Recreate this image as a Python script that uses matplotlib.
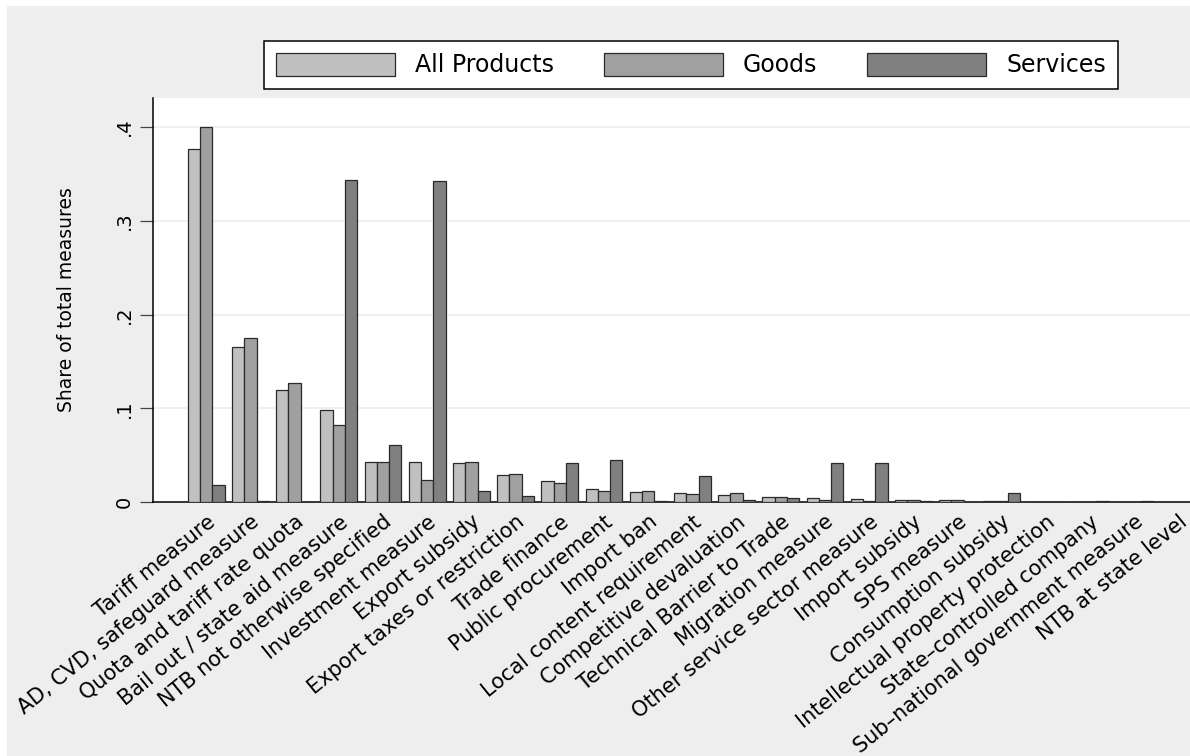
import matplotlib
matplotlib.use('Agg')
import matplotlib.pyplot as plt
import numpy as np
from matplotlib.patches import Rectangle

# Share of total measures by measure type
categories = ['Tariff measure', 'AD, CVD, safeguard measure', 'Quota and tariff rate quota',
              'Bail out / state aid measure', 'NTB not otherwise specified',
              'Investment measure', 'Export subsidy', 'Export taxes or restriction',
              'Trade finance', 'Public procurement', 'Import ban',
              'Local content requirement', 'Competitive devaluation',
              'Technical Barrier to Trade', 'Migration measure',
              'Other service sector measure', 'Import subsidy', 'SPS measure',
              'Consumption subsidy', 'Intellectual property protection',
              'State\u2013controlled company', 'Sub\u2013national government measure',
              'NTB at state level']

all_products = [0.377, 0.165, 0.119, 0.098, 0.043, 0.043, 0.042, 0.029, 0.022, 0.0135,
                0.0103, 0.0093, 0.0078, 0.0057, 0.0046, 0.0035, 0.002, 0.002, 0.001,
                0.0, 0.0, 0.0, 0.0]
goods = [0.400, 0.175, 0.127, 0.082, 0.043, 0.0235, 0.043, 0.030, 0.0206, 0.012,
         0.012, 0.0082, 0.0093, 0.0057, 0.0025, 0.001, 0.002, 0.002, 0.001,
         0.0, 0.0, 0.0, 0.0]
services = [0.018, 0.001, 0.0, 0.343, 0.061, 0.342, 0.012, 0.006, 0.0416, 0.045,
            0.001, 0.0277, 0.002, 0.0046, 0.0413, 0.0416, 0.001, 0.0, 0.0093,
            0.0, 0.001, 0.001, 0.0]

series_labels = ['All Products', 'Goods', 'Services']
yticks = [0, 0.1, 0.2, 0.3, 0.4]
ytick_labels = ['0', '.1', '.2', '.3', '.4']


def bar_plot(fname='out.png'):
    '''Stata-style grouped bar chart of measure shares'''

    fig = plt.figure(figsize=(11.9, 7.56), dpi=100, facecolor='white')
    # grey graph region, leaving a thin white margin top/left as in the original
    fig.patches.append(Rectangle((7 / 1190, 0), 1, 1 - 6 / 756, transform=fig.transFigure,
                                 facecolor='#eeeeee', edgecolor='none', zorder=-10))

    ax = fig.add_axes([153 / 1190, 1 - 502 / 756, (1190 - 153) / 1190, (502 - 97.5) / 756])
    ax.set_facecolor('white')

    x = np.arange(len(categories))
    width = 0.278
    colors = ['#c0c0c0', '#a0a0a0', '#808080']
    bars = []
    for k, vals in enumerate([all_products, goods, services]):
        b = ax.bar(x + (k - 1) * width, vals, width, color=colors[k], edgecolor='#2a2a2a',
                   linewidth=0.9, label=series_labels[k], zorder=3)
        bars.append(b)

    ax.set_xlim(-1.204, 22.258)
    ax.set_ylim(0, 0.4315)

    ax.set_yticks(yticks)
    ax.set_yticklabels(ytick_labels, rotation=90, va='center', fontsize=14)
    ax.tick_params(axis='y', length=9.5, width=0.9, color='#444444', pad=4)
    for y in yticks[1:]:
        ax.axhline(y, color='#eaf2f3', linewidth=1.4, zorder=1)

    ax.set_xticks(x)
    ax.set_xticklabels(categories, rotation=39, ha='right', va='top',
                       rotation_mode='anchor', fontsize=15)
    ax.tick_params(axis='x', length=0, pad=7)

    ax.spines['top'].set_visible(False)
    ax.spines['right'].set_visible(False)
    ax.spines['left'].set_linewidth(1.1)
    ax.spines['bottom'].set_linewidth(1.1)

    ax.set_ylabel('Share of total measures', fontsize=13.5, labelpad=28)

    leg = fig.legend(handles=bars, labels=series_labels, loc='upper left', ncol=3,
                     bbox_to_anchor=(264 / 1190, 1 - 41 / 756), borderaxespad=0,
                     fontsize=17, handlelength=5.04, handleheight=1.14, handletextpad=0.85,
                     columnspacing=2.12, borderpad=0.5, fancybox=False, framealpha=1,
                     edgecolor='black')
    leg.get_frame().set_linewidth(1.1)

    plt.savefig(fname, dpi=100, facecolor=fig.get_facecolor())


def main():
    bar_plot('out.png')


if __name__ == "__main__":
    main()
